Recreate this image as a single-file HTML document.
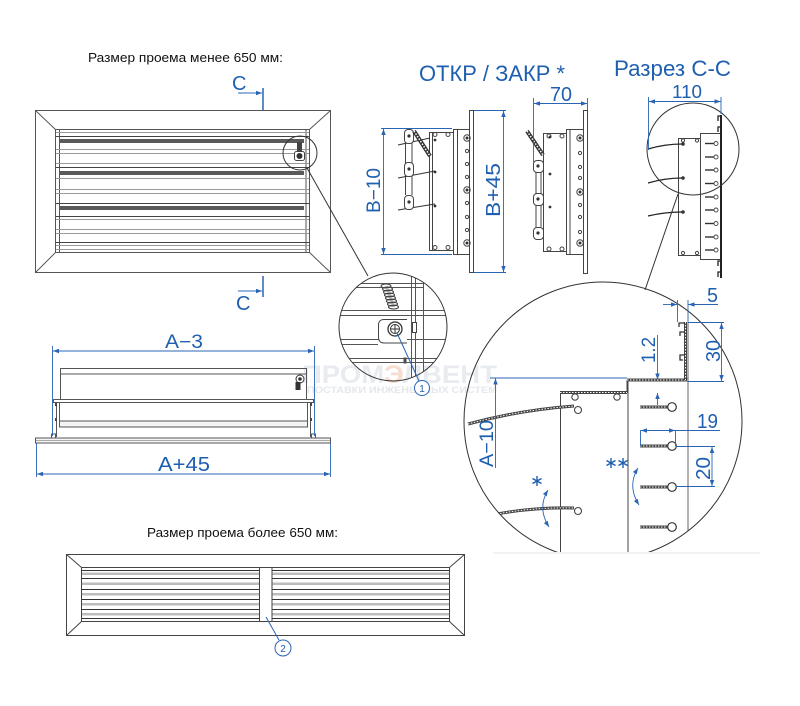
<!DOCTYPE html>
<html><head><meta charset="utf-8"><style>
html,body{margin:0;padding:0;background:#fff;}
svg{display:block;}
text{font-family:"Liberation Sans",Arial,sans-serif;}
</style></head><body>
<svg width="800" height="706" viewBox="0 0 800 706" xmlns="http://www.w3.org/2000/svg">
<defs>
<marker id="ar" viewBox="0 0 8 6" refX="8" refY="3" markerWidth="7" markerHeight="4.5" markerUnits="userSpaceOnUse" orient="auto-start-reverse"><path d="M0,0 L8,3 L0,6 z" fill="#2a64b4"/></marker>
<clipPath id="c1"><circle cx="393" cy="327" r="54"/></clipPath>
<clipPath id="c2"><rect x="0" y="0" width="800" height="552"/></clipPath>
<clipPath id="c2c"><circle cx="603" cy="421" r="139"/></clipPath>
</defs>
<rect width="800" height="706" fill="#fff"/>

<!-- watermark -->
<text x="302" y="383" font-size="25" font-weight="bold" fill="#e8ebef" textLength="195" lengthAdjust="spacingAndGlyphs">ПРОМ<tspan fill="#f6ddd0">Э</tspan>ЛВЕНТ</text>
<text x="307" y="393" font-size="9" font-weight="bold" fill="#e4e7eb" textLength="190" lengthAdjust="spacingAndGlyphs">ПОСТАВКИ ИНЖЕНЕРНЫХ СИСТЕМ</text>

<!-- titles -->
<text x="88" y="62" font-size="13" fill="#111" textLength="195" lengthAdjust="spacingAndGlyphs">Размер проема менее 650 мм:</text>
<text x="147" y="537" font-size="13" fill="#111" textLength="191" lengthAdjust="spacingAndGlyphs">Размер проема более 650 мм:</text>
<text x="419" y="81" font-size="22" fill="#1f5fb0" textLength="146" lengthAdjust="spacingAndGlyphs">ОТКР / ЗАКР *</text>
<text x="614" y="76" font-size="22" fill="#1f5fb0" textLength="117" lengthAdjust="spacingAndGlyphs">Разрез С-С</text>

<!-- ===== top grille ===== -->
<g stroke="#555" fill="none" stroke-width="1">
<rect x="35.5" y="110.5" width="295" height="162"/>
<rect x="55.5" y="129.5" width="254" height="123"/>
<line x1="35.5" y1="110.5" x2="55.5" y2="129.5"/>
<line x1="330.5" y1="110.5" x2="309.5" y2="129.5"/>
<line x1="35.5" y1="272.5" x2="55.5" y2="252.5"/>
<line x1="330.5" y1="272.5" x2="309.5" y2="252.5"/>
<line x1="59.5" y1="129.5" x2="59.5" y2="252.5"/>
<line x1="306" y1="129.5" x2="306" y2="252.5"/>
</g>
<g stroke="#9a9a9a" stroke-width="1">
<line x1="56" y1="132.5" x2="309" y2="132.5"/>
<line x1="56" y1="149.5" x2="309" y2="149.5"/>
<line x1="56" y1="153.5" x2="309" y2="153.5"/>
<line x1="56" y1="163.5" x2="309" y2="163.5"/>
<line x1="56" y1="178.5" x2="309" y2="178.5"/>
<line x1="56" y1="189.5" x2="309" y2="189.5"/>
<line x1="56" y1="193.5" x2="309" y2="193.5"/>
<line x1="56" y1="219.5" x2="309" y2="219.5"/>
<line x1="56" y1="229.5" x2="309" y2="229.5"/>
<line x1="56" y1="233.5" x2="309" y2="233.5"/>
<line x1="56" y1="245.5" x2="309" y2="245.5"/>
<line x1="56" y1="249.5" x2="309" y2="249.5"/>
</g>
<g stroke="#444" stroke-width="1">
<line x1="56" y1="136.5" x2="309" y2="136.5"/>
<line x1="56" y1="167.5" x2="309" y2="167.5"/>
<line x1="56" y1="203.5" x2="309" y2="203.5"/>
<line x1="56" y1="216.5" x2="309" y2="216.5"/>
<line x1="56" y1="242.5" x2="309" y2="242.5"/>
</g>
<g fill="#5a5a5a">
<rect x="60" y="139" width="244" height="4"/>
<rect x="60" y="171" width="244" height="4"/>
<rect x="60" y="206" width="244" height="4"/>
</g>
<!-- mechanism in grille -->
<rect x="297" y="142" width="5" height="9" fill="#444"/>
<rect x="294.5" y="151.5" width="10" height="9" rx="2" fill="#fff" stroke="#444"/>
<circle cx="299.5" cy="156" r="3" fill="#333"/>
<circle cx="300" cy="153" r="17" fill="none" stroke="#333"/>
<line x1="307" y1="168" x2="368" y2="276" stroke="#333"/>

<!-- C markers -->
<text x="232" y="90" font-size="20" fill="#1f5fb0">C</text>
<line x1="238" y1="93" x2="262" y2="93" stroke="#2a64b4" marker-end="url(#ar)"/>
<line x1="263" y1="88" x2="263" y2="110" stroke="#2a64b4" stroke-width="1.5"/>
<line x1="263" y1="276" x2="263" y2="297" stroke="#2a64b4" stroke-width="1.5"/>
<line x1="238" y1="291" x2="262" y2="291" stroke="#2a64b4" marker-end="url(#ar)"/>
<text x="236" y="310" font-size="20" fill="#1f5fb0">C</text>

<!-- ===== detail circle 1 ===== -->
<g clip-path="url(#c1)" stroke="#555" fill="none" stroke-width="1">
<line x1="335" y1="283.5" x2="423" y2="283.5"/>
<line x1="335" y1="287.5" x2="423" y2="287.5"/>
<line x1="335" y1="310.5" x2="450" y2="310.5"/>
<line x1="335" y1="315.5" x2="450" y2="315.5"/>
<line x1="335" y1="339.5" x2="450" y2="339.5"/>
<line x1="335" y1="344.5" x2="378" y2="344.5"/>
<line x1="335" y1="358.5" x2="450" y2="358.5"/>
<line x1="335" y1="362.5" x2="450" y2="362.5"/>
<line x1="411.5" y1="270" x2="411.5" y2="385"/>
<line x1="415.5" y1="270" x2="415.5" y2="385"/>
<line x1="423.5" y1="270" x2="423.5" y2="385"/>
<g stroke="#444" stroke-width="1.1">
<ellipse cx="386" cy="286" rx="5" ry="2"/>
<ellipse cx="387.5" cy="289" rx="5" ry="2"/>
<ellipse cx="388.5" cy="292" rx="5" ry="2"/>
<ellipse cx="389.5" cy="295" rx="5" ry="2"/>
<ellipse cx="390.5" cy="298" rx="5" ry="2"/>
<ellipse cx="391.5" cy="301" rx="5" ry="2"/>
<ellipse cx="392.5" cy="304" rx="5" ry="2"/>
<ellipse cx="393.5" cy="307" rx="5" ry="2"/>
</g>
<path d="M407,319.5 L384,319.5 Q378.5,319.5 378.5,325 L378.5,337 Q378.5,343 384,343 L407,343" fill="#fff" stroke="#444"/>
<circle cx="395" cy="329" r="7" fill="#fff" stroke="#333" stroke-width="1.3"/>
<circle cx="395" cy="329" r="4.5" stroke="#333"/>
<line x1="391" y1="329" x2="399" y2="329" stroke="#333"/>
<line x1="395" y1="325" x2="395" y2="333" stroke="#333"/>
<rect x="412.5" y="322.5" width="4" height="10" fill="#fff" stroke="#444"/>
<rect x="404" y="358" width="2" height="5" fill="#444"/>
</g>
<circle cx="393" cy="327" r="54" fill="none" stroke="#333"/>
<line x1="397" y1="333" x2="419" y2="381" stroke="#2a64b4"/>
<circle cx="422" cy="388" r="7.5" fill="#fff" stroke="#2a64b4"/>
<text x="422" y="392" font-size="10" fill="#1f5fb0" text-anchor="middle">1</text>

<!-- ===== bottom-left elevation ===== -->
<g stroke="#555" fill="none" stroke-width="1">
<rect x="60.5" y="368.5" width="246" height="5.5"/>
<line x1="60.5" y1="374" x2="60.5" y2="399"/>
<line x1="306.5" y1="374" x2="306.5" y2="399"/>
<rect x="53.5" y="399.5" width="260" height="3"/>
<rect x="59.5" y="402.5" width="248" height="18.5"/>
<rect x="59.5" y="421" width="248" height="6" fill="#f3f3f3"/>
<line x1="56.5" y1="402" x2="56.5" y2="437"/>
<line x1="310.5" y1="402" x2="310.5" y2="437"/>
<rect x="35.5" y="438" width="295" height="5" fill="#f5f5f5"/>
<line x1="36" y1="440.5" x2="330" y2="440.5" stroke="#aaa"/>
<rect x="51.5" y="434" width="4" height="4"/>
<rect x="311.5" y="434" width="4" height="4"/>
</g>
<rect x="55" y="403" width="2" height="3" fill="#444"/>
<rect x="55" y="418" width="2" height="3" fill="#444"/>
<rect x="310" y="403" width="2" height="3" fill="#444"/>
<rect x="310" y="418" width="2" height="3" fill="#444"/>
<circle cx="300" cy="379" r="4" fill="#fff" stroke="#333"/>
<circle cx="300" cy="379" r="1.8" fill="#333"/>
<rect x="295.5" y="382" width="5" height="8" fill="#333"/>
<g stroke="#2a64b4" stroke-width="0.9" fill="none">
<line x1="52.5" y1="346" x2="52.5" y2="436"/>
<line x1="314.5" y1="346" x2="314.5" y2="436"/>
<line x1="53" y1="351" x2="314" y2="351" marker-start="url(#ar)" marker-end="url(#ar)"/>
<line x1="36.5" y1="443" x2="36.5" y2="477"/>
<line x1="330.5" y1="443" x2="330.5" y2="477"/>
<line x1="37" y1="474" x2="330" y2="474" marker-start="url(#ar)" marker-end="url(#ar)"/>
</g>
<text x="165" y="348" font-size="19" fill="#1f5fb0" textLength="38" lengthAdjust="spacingAndGlyphs">A−3</text>
<text x="158" y="471" font-size="20" fill="#1f5fb0" textLength="52" lengthAdjust="spacingAndGlyphs">A+45</text>

<!-- ===== side view closed ===== -->
<g stroke="#444" fill="none" stroke-width="1">
<rect x="469.5" y="110.5" width="4" height="162" fill="#fff"/>
<rect x="453.5" y="129.5" width="4" height="125"/>
<line x1="457.5" y1="129.5" x2="469.5" y2="129.5"/>
<line x1="457.5" y1="254.5" x2="469.5" y2="254.5"/>
<rect x="429.5" y="132.5" width="24" height="118"/>
<line x1="432.5" y1="132.5" x2="432.5" y2="250.5"/>
<circle cx="435" cy="134.5" r="2"/><circle cx="448" cy="134.5" r="2"/>
<circle cx="435" cy="247.5" r="2"/><circle cx="448" cy="247.5" r="2"/>
<circle cx="467" cy="138" r="3.2"/><circle cx="467" cy="190" r="3.2"/><circle cx="467" cy="243" r="3.2"/>
<circle cx="467" cy="151" r="1.6"/><circle cx="467" cy="164" r="1.6"/><circle cx="467" cy="177" r="1.6"/>
<circle cx="467" cy="203" r="1.6"/><circle cx="467" cy="217" r="1.6"/><circle cx="467" cy="230" r="1.6"/>
<line x1="405.5" y1="143" x2="405.5" y2="195"/>
<line x1="412" y1="143" x2="412" y2="195"/>
</g>
<g fill="#333">
<circle cx="467" cy="138" r="1.5"/><circle cx="467" cy="190" r="1.5"/><circle cx="467" cy="243" r="1.5"/>
<circle cx="435" cy="140" r="1.4"/><circle cx="435" cy="172" r="1.4"/><circle cx="435" cy="206" r="1.4"/>
</g>
<g stroke="#333" stroke-width="1">
<line x1="398" y1="145" x2="430" y2="138"/>
<line x1="398" y1="178" x2="435" y2="171"/>
<line x1="398" y1="210" x2="435" y2="204"/>
</g>
<g stroke="#444" fill="#fff">
<rect x="404.5" y="129.5" width="9" height="14" rx="3.5"/>
<rect x="404.5" y="162.5" width="9" height="14" rx="3.5"/>
<rect x="404.5" y="195.5" width="9" height="14" rx="3.5"/>
</g>
<g fill="#333"><circle cx="409" cy="136" r="1.6"/><circle cx="409" cy="169" r="1.6"/><circle cx="409" cy="202" r="1.6"/></g>
<path d="M414,131 L430,156" stroke="#333" stroke-width="4"/>
<path d="M414,131 L430,156" stroke="#fff" stroke-width="1.5" stroke-dasharray="1.5 1.5"/>
<g stroke="#2a64b4" stroke-width="0.9" fill="none">
<line x1="381" y1="128.5" x2="452" y2="128.5"/>
<line x1="381" y1="254.5" x2="452" y2="254.5"/>
<line x1="383.5" y1="129" x2="383.5" y2="254" marker-start="url(#ar)" marker-end="url(#ar)"/>
<line x1="474" y1="110.5" x2="506" y2="110.5"/>
<line x1="474" y1="272.5" x2="506" y2="272.5"/>
<line x1="503.5" y1="111" x2="503.5" y2="272" marker-start="url(#ar)" marker-end="url(#ar)"/>
</g>
<text transform="translate(380,213) rotate(-90)" font-size="19" fill="#1f5fb0" textLength="45" lengthAdjust="spacingAndGlyphs">B−10</text>
<text transform="translate(500,217) rotate(-90)" font-size="20" fill="#1f5fb0" textLength="54" lengthAdjust="spacingAndGlyphs">B+45</text>

<!-- ===== side view open ===== -->
<g stroke="#444" fill="none" stroke-width="1">
<rect x="583.5" y="110.5" width="4" height="163" fill="#fff"/>
<rect x="566.5" y="129.5" width="3.5" height="125"/>
<line x1="570" y1="129.5" x2="583.5" y2="129.5"/>
<line x1="570" y1="254.5" x2="583.5" y2="254.5"/>
<rect x="543.5" y="133.5" width="23" height="118"/>
<circle cx="549" cy="136" r="2"/><circle cx="562" cy="136" r="2"/>
<circle cx="549" cy="249" r="2"/><circle cx="562" cy="249" r="2"/>
<circle cx="580" cy="138" r="3.2"/><circle cx="580" cy="192" r="3.2"/><circle cx="580" cy="243" r="3.2"/>
<circle cx="580" cy="153" r="1.6"/><circle cx="580" cy="167" r="1.6"/><circle cx="580" cy="178" r="1.6"/>
<circle cx="580" cy="205" r="1.6"/><circle cx="580" cy="217" r="1.6"/><circle cx="580" cy="232" r="1.6"/>
<line x1="536" y1="172" x2="536" y2="227"/>
<line x1="541" y1="172" x2="541" y2="227"/>
</g>
<g fill="#333">
<circle cx="580" cy="138" r="1.5"/><circle cx="580" cy="192" r="1.5"/><circle cx="580" cy="243" r="1.5"/>
<circle cx="550" cy="137" r="1.4"/><circle cx="550" cy="174" r="1.4"/><circle cx="550" cy="207" r="1.4"/>
</g>
<g stroke="#444" fill="#fff">
<rect x="533.5" y="160.5" width="10" height="12" rx="3.5"/>
<rect x="533.5" y="193.5" width="10" height="12" rx="3.5"/>
<rect x="533.5" y="227.5" width="10" height="12" rx="3.5"/>
</g>
<g fill="#333"><circle cx="538" cy="166" r="1.6"/><circle cx="538" cy="199" r="1.6"/><circle cx="538" cy="233" r="1.6"/></g>
<path d="M527,131 L543,155" stroke="#333" stroke-width="4"/>
<path d="M527,131 L543,155" stroke="#fff" stroke-width="1.5" stroke-dasharray="1.5 1.5"/>
<g stroke="#2a64b4" stroke-width="0.9" fill="none">
<line x1="533.5" y1="98" x2="533.5" y2="163"/>
<line x1="587.5" y1="98" x2="587.5" y2="110"/>
<line x1="534" y1="103.5" x2="587" y2="103.5" marker-start="url(#ar)" marker-end="url(#ar)"/>
</g>
<text x="550" y="101" font-size="20" fill="#1f5fb0" textLength="22" lengthAdjust="spacingAndGlyphs">70</text>

<!-- ===== section C-C ===== -->
<g stroke="#444" fill="none" stroke-width="1">
<line x1="700.5" y1="133" x2="700.5" y2="260"/>
<line x1="700.5" y1="133.5" x2="721" y2="133.5"/>
<line x1="700.5" y1="259.5" x2="721" y2="259.5"/>
<rect x="678.5" y="138.5" width="22" height="117"/>
<circle cx="683" cy="140.5" r="1.6"/><circle cx="697" cy="140.5" r="1.6"/>
<circle cx="683" cy="253" r="1.6"/><circle cx="697" cy="253" r="1.6"/>
</g>
<line x1="721" y1="115" x2="721" y2="278" stroke="#222" stroke-width="2"/>
<g stroke="#222" stroke-width="1.3" fill="none">
<path d="M721,116 L718,116 L718,121"/>
<path d="M721,127 L718,127 L718,132"/>
<path d="M721,261 L718,261 L718,266"/>
<path d="M721,272 L718,272 L718,277"/>
</g>
<g stroke="#333" stroke-width="1.4">
<line x1="705" y1="143.5" x2="714" y2="143.5"/>
<line x1="705" y1="157" x2="714" y2="157"/>
<line x1="705" y1="170" x2="714" y2="170"/>
<line x1="705" y1="183.5" x2="714" y2="183.5"/>
<line x1="705" y1="197" x2="714" y2="197"/>
<line x1="705" y1="210" x2="714" y2="210"/>
<line x1="705" y1="223.5" x2="714" y2="223.5"/>
<line x1="705" y1="237" x2="714" y2="237"/>
<line x1="705" y1="250" x2="714" y2="250"/>
</g>
<g stroke="#444" fill="#fff" stroke-width="0.9">
<circle cx="716" cy="143.5" r="2"/><circle cx="716" cy="157" r="2"/><circle cx="716" cy="170" r="2"/>
<circle cx="716" cy="183.5" r="2"/><circle cx="716" cy="197" r="2"/><circle cx="716" cy="210" r="2"/>
<circle cx="716" cy="223.5" r="2"/><circle cx="716" cy="237" r="2"/><circle cx="716" cy="250" r="2"/>
</g>
<g stroke="#222" stroke-width="1.3" fill="none">
<path d="M648,149 Q665,144 682,144"/>
<path d="M648,183 Q665,178 682,178"/>
<path d="M648,216 Q665,212 682,212"/>
</g>
<g fill="#333"><circle cx="683" cy="144" r="1.8"/><circle cx="683" cy="178" r="1.8"/><circle cx="683" cy="212" r="1.8"/></g>
<circle cx="693" cy="149" r="46" fill="none" stroke="#333"/>
<line x1="678" y1="194" x2="645" y2="290" stroke="#333"/>
<g stroke="#2a64b4" stroke-width="0.9" fill="none">
<line x1="648.5" y1="97" x2="648.5" y2="150"/>
<line x1="721" y1="97" x2="721" y2="114"/>
<line x1="649" y1="101.5" x2="720.5" y2="101.5" marker-start="url(#ar)" marker-end="url(#ar)"/>
</g>
<text x="672" y="98" font-size="18" fill="#1f5fb0" textLength="30" lengthAdjust="spacingAndGlyphs">110</text>

<!-- ===== big detail circle ===== -->
<g clip-path="url(#c2)">
<g clip-path="url(#c2c)">
<g stroke="#444" fill="none" stroke-width="1">
<line x1="560.5" y1="392" x2="560.5" y2="560"/>
<line x1="628" y1="380" x2="628" y2="560"/>
<line x1="688" y1="322" x2="688" y2="560" stroke="#666"/>
<line x1="627" y1="380" x2="627" y2="393"/>
</g>
<g fill="none">
<path d="M560,392.5 L627,392.5" stroke="#444" stroke-width="3"/>
<path d="M560,392.5 L627,392.5" stroke="#fff" stroke-width="1" stroke-dasharray="1.5 1.5"/>
<path d="M627,380 L688,380" stroke="#444" stroke-width="3"/>
<path d="M627,380 L688,380" stroke="#fff" stroke-width="1" stroke-dasharray="1.5 1.5"/>
<path d="M685.5,322 L685.5,380" stroke="#444" stroke-width="3"/>
<path d="M685.5,322 L685.5,380" stroke="#fff" stroke-width="1" stroke-dasharray="1.5 1.5"/>
<path d="M468,424 Q520,410 574,406" stroke="#444" stroke-width="3"/>
<path d="M468,424 Q520,410 574,406" stroke="#fff" stroke-width="1" stroke-dasharray="1.5 1.5"/>
<path d="M497,514 Q535,507 574,508" stroke="#444" stroke-width="3"/>
<path d="M497,514 Q535,507 574,508" stroke="#fff" stroke-width="1" stroke-dasharray="1.5 1.5"/>
</g>
<g stroke="#333" stroke-width="1.3" fill="none">
<path d="M685,323 L679,323 L679,327"/>
<path d="M685,332 L680,332 L680,336"/>
<path d="M685,355 L680,355 L680,360 L683,360"/>
</g>
<g stroke="#444" fill="#fff" stroke-width="1.1">
<circle cx="575" cy="397" r="3.2"/><circle cx="617" cy="397" r="3.2"/>
<circle cx="578" cy="410" r="3.5"/><circle cx="578" cy="511" r="3.5"/>
</g>
<g fill="none">
<path d="M640,407 L668,407 M640,446 L668,446 M640,487 L668,487 M640,527 L668,527" stroke="#444" stroke-width="3"/>
<path d="M640,407 L668,407 M640,446 L668,446 M640,487 L668,487 M640,527 L668,527" stroke="#fff" stroke-width="1" stroke-dasharray="1.5 1.5"/>
</g>
<g stroke="#333" fill="#fff" stroke-width="1.2">
<circle cx="672" cy="407" r="4.3"/><circle cx="672" cy="446" r="4.3"/>
<circle cx="672" cy="487" r="4.3"/><circle cx="672" cy="527" r="4.3"/>
</g>
</g>
<circle cx="603" cy="421" r="139" fill="none" stroke="#333"/>
</g>
<line x1="493" y1="553" x2="760" y2="553" stroke="#e4e4e4"/>

<!-- big circle dims -->
<g stroke="#2a64b4" stroke-width="0.9" fill="none">
<line x1="490" y1="378" x2="627" y2="378"/>
<line x1="495.5" y1="468" x2="495.5" y2="378.5" marker-end="url(#ar)"/>
<line x1="657.5" y1="335" x2="657.5" y2="379.5" marker-end="url(#ar)"/>
<line x1="657.5" y1="405" x2="657.5" y2="393" marker-end="url(#ar)"/>
<line x1="677.5" y1="300" x2="677.5" y2="322"/>
<line x1="688" y1="300" x2="688" y2="322"/>
<line x1="663" y1="304.5" x2="677" y2="304.5" marker-end="url(#ar)"/>
<line x1="718" y1="304.5" x2="688.5" y2="304.5" marker-end="url(#ar)"/>
<line x1="688" y1="322.5" x2="724" y2="322.5"/>
<line x1="688" y1="381.5" x2="724" y2="381.5"/>
<line x1="721.5" y1="323" x2="721.5" y2="381" marker-start="url(#ar)" marker-end="url(#ar)"/>
<line x1="640.5" y1="430" x2="640.5" y2="446"/>
<line x1="675.5" y1="430" x2="675.5" y2="446"/>
<line x1="641" y1="430.5" x2="675" y2="430.5" marker-start="url(#ar)" marker-end="url(#ar)"/>
<line x1="675" y1="430.5" x2="720" y2="430.5"/>
<line x1="676" y1="446.5" x2="715" y2="446.5"/>
<line x1="676" y1="486.5" x2="715" y2="486.5"/>
<line x1="712" y1="447" x2="712" y2="486" marker-start="url(#ar)" marker-end="url(#ar)"/>
<path d="M638,468 Q627,486 639,505" marker-start="url(#ar)" marker-end="url(#ar)"/>
<path d="M548,490 Q537,508 549,527" marker-start="url(#ar)" marker-end="url(#ar)"/>
</g>
<g stroke="#1f5fb0" stroke-width="1.4">
<path d="M611,458 L611,468 M606.5,460.5 L615.5,465.5 M606.5,465.5 L615.5,460.5"/>
<path d="M623,458 L623,468 M618.5,460.5 L627.5,465.5 M618.5,465.5 L627.5,460.5"/>
<path d="M537,476 L537,486 M532.5,478.5 L541.5,483.5 M532.5,483.5 L541.5,478.5"/>
</g>
<text x="707" y="302" font-size="20" fill="#1f5fb0" textLength="11" lengthAdjust="spacingAndGlyphs">5</text>
<text transform="translate(720,362) rotate(-90)" font-size="20" fill="#1f5fb0" textLength="22" lengthAdjust="spacingAndGlyphs">30</text>
<text transform="translate(655,363) rotate(-90)" font-size="19" fill="#1f5fb0" textLength="26" lengthAdjust="spacingAndGlyphs">1.2</text>
<text x="697" y="428" font-size="20" fill="#1f5fb0" textLength="21" lengthAdjust="spacingAndGlyphs">19</text>
<text transform="translate(710,480) rotate(-90)" font-size="20" fill="#1f5fb0" textLength="23" lengthAdjust="spacingAndGlyphs">20</text>
<text transform="translate(493,467) rotate(-90)" font-size="19" fill="#1f5fb0" textLength="47" lengthAdjust="spacingAndGlyphs">A−10</text>

<!-- ===== bottom grille ===== -->
<g stroke="#444" fill="none" stroke-width="1">
<rect x="66.5" y="554.5" width="398" height="81"/>
<rect x="81.5" y="567.5" width="368" height="54"/>
<line x1="66.5" y1="554.5" x2="81.5" y2="567.5"/>
<line x1="464.5" y1="554.5" x2="449.5" y2="567.5"/>
<line x1="66.5" y1="635.5" x2="81.5" y2="621.5"/>
<line x1="464.5" y1="635.5" x2="449.5" y2="621.5"/>
</g>
<g fill="#bdbdbd">
<rect x="82" y="572.5" width="177" height="2.5"/><rect x="272" y="572.5" width="177" height="2.5"/>
<rect x="82" y="582.5" width="177" height="2.5"/><rect x="272" y="582.5" width="177" height="2.5"/>
<rect x="82" y="593" width="177" height="2.5"/><rect x="272" y="593" width="177" height="2.5"/>
<rect x="82" y="603" width="177" height="2.5"/><rect x="272" y="603" width="177" height="2.5"/>
<rect x="82" y="613" width="177" height="2.5"/><rect x="272" y="613" width="177" height="2.5"/>
</g>
<g stroke="#333" stroke-width="1">
<path d="M82,570.5 H259 M272,570.5 H449"/>
<path d="M82,578.5 H259 M272,578.5 H449"/>
<path d="M82,589.5 H259 M272,589.5 H449"/>
<path d="M82,599.5 H259 M272,599.5 H449"/>
<path d="M82,609.5 H259 M272,609.5 H449"/>
<path d="M82,618.5 H259 M272,618.5 H449"/>
</g>
<rect x="259.5" y="567.5" width="12.5" height="54" fill="#fff" stroke="#444"/>
<line x1="266" y1="617" x2="279" y2="640" stroke="#2a64b4"/>
<circle cx="283" cy="648" r="8" fill="#fff" stroke="#2a64b4"/>
<text x="283" y="652" font-size="10" fill="#1f5fb0" text-anchor="middle">2</text>
</svg>
</body></html>
